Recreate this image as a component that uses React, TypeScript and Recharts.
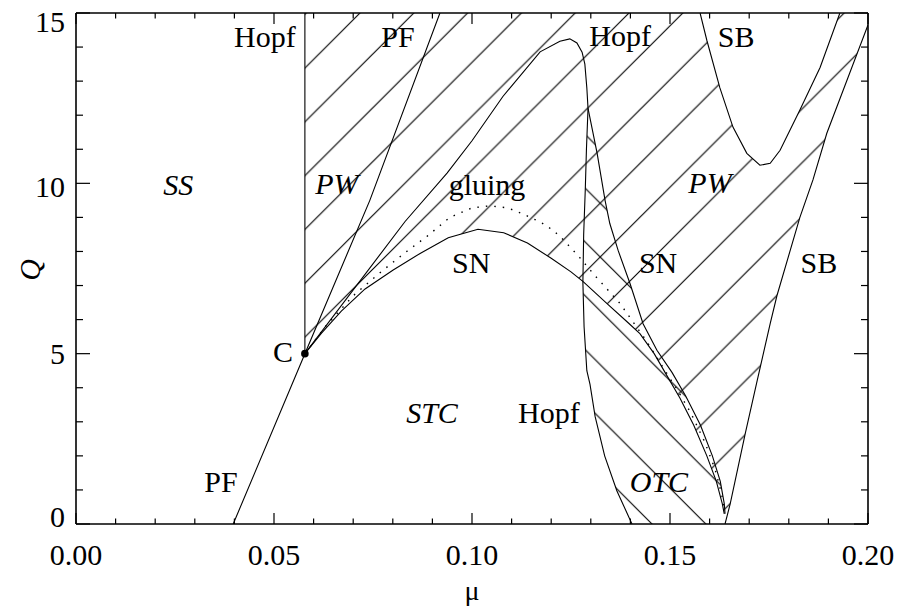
import React from "react"
import { ComposedChart, Scatter, XAxis, YAxis } from "recharts"

const FONT = '"Liberation Serif", "Times New Roman", serif'
const PLOT = { left: 76, top: 13, right: 868, bottom: 524 }

type Pt = [number, number]

// ticks
const xTicks = [0, 0.01, 0.02, 0.03, 0.04, 0.05, 0.06, 0.07, 0.08, 0.09, 0.1, 0.11, 0.12, 0.13, 0.14, 0.15, 0.16, 0.17, 0.18, 0.19, 0.2]
const xMajor = [0, 0.05, 0.1, 0.15, 0.2]
const xLabels = ["0.00", "0.05", "0.10", "0.15", "0.20"]
const yTicks = [0, 1, 2, 3, 4, 5, 6, 7, 8, 9, 10, 11, 12, 13, 14, 15]
const yMajor = [0, 5, 10, 15]
const yLabels = ["0", "5", "10", "15"]

// bifurcation curves, [mu, Q]
const pfCurve: Pt[] = [[0.0397, 0], [0.0578, 5], [0.0742, 9.5], [0.0919, 15]]
const hopfLeft: Pt[] = [[0.0578, 5], [0.0578, 15]]
const hopfRise: Pt[] = [
  [0.0578, 5], [0.0831, 8.88], [0.0937, 10.3], [0.1, 11.25], [0.1078, 12.55], [0.1172, 13.86],
  [0.1222, 14.17], [0.1247, 14.24], [0.1265, 14.12], [0.1278, 13.85], [0.1285, 13.5], [0.129, 12.8],
  [0.1293, 12.2],
]
const hopfDrop: Pt[] = [
  [0.1293, 12.2], [0.1289, 11.0], [0.1286, 9.8], [0.1282, 8.5], [0.128, 7.1], [0.1283, 5.8], [0.129, 4.5],
  [0.1298, 4.1], [0.1311, 3.15], [0.1335, 2.0], [0.1366, 0.97], [0.1404, 0],
]
const snArch: Pt[] = [
  [0.0578, 5], [0.062, 5.6], [0.067, 6.25], [0.073, 6.9], [0.08, 7.45], [0.087, 7.95], [0.094, 8.4],
  [0.1015, 8.65], [0.108, 8.55], [0.114, 8.25], [0.12, 7.8], [0.125, 7.4], [0.128, 7.12], [0.1341, 6.47],
  [0.1395, 5.9], [0.1424, 5.59], [0.146, 5.0], [0.149, 4.4], [0.1525, 3.7], [0.156, 2.9], [0.1593, 2.0],
  [0.1617, 1.25], [0.1632, 0.6], [0.1637, 0.3],
]
const snRight: Pt[] = [
  [0.1293, 12.2], [0.1316, 10.88], [0.1336, 9.5], [0.1348, 8.82], [0.1369, 8.03], [0.1399, 7.06],
  [0.1432, 5.88], [0.1467, 5.1], [0.1505, 4.45], [0.154, 3.75], [0.1577, 2.9], [0.1607, 2.0],
  [0.1627, 1.25], [0.1637, 0.6], [0.1639, 0.3],
]
const gluing: Pt[] = [
  [0.0578, 5], [0.063, 5.8], [0.07, 6.7], [0.077, 7.4], [0.0835, 8.0], [0.0887, 8.45], [0.0944, 9.0],
  [0.1, 9.28], [0.1045, 9.34], [0.109, 9.28], [0.1129, 9.1], [0.1175, 8.85], [0.1205, 8.62], [0.123, 8.35],
  [0.127, 7.85], [0.1306, 7.35], [0.1374, 6.47], [0.1442, 5.35], [0.1482, 4.6], [0.1518, 3.95],
  [0.1553, 3.25], [0.1588, 2.4], [0.1614, 1.6], [0.163, 0.9], [0.1638, 0.4],
]
const sbLoop: Pt[] = [
  [0.1576, 15], [0.1593, 14.2], [0.1626, 12.8], [0.1659, 11.65], [0.1694, 10.88], [0.1727, 10.53],
  [0.1753, 10.59], [0.1778, 10.97], [0.1828, 12.15], [0.1879, 13.4], [0.1929, 15],
]
const sbRight: Pt[] = [
  [0.1639, 0], [0.1652, 0.59], [0.169, 2.65], [0.172, 4.2], [0.1753, 5.88], [0.177, 6.7], [0.1828, 9.0],
  [0.1861, 10.1], [0.1896, 11.47], [0.2, 14.65],
]
const cuspC: Pt[] = [[0.0578, 5]]

// region labels: [mu, Q, text, italic]
const regionLabels: [number, number, string, boolean][] = [
  [0.0477, 14.0, "Hopf", false],
  [0.0813, 14.0, "PF", false],
  [0.1374, 14.03, "Hopf", false],
  [0.1667, 14.0, "SB", false],
  [0.0258, 9.66, "SS", true],
  [0.0659, 9.69, "PW", true],
  [0.1038, 9.66, "gluing", false],
  [0.1601, 9.72, "PW", true],
  [0.0998, 7.37, "SN", false],
  [0.147, 7.37, "SN", false],
  [0.1876, 7.37, "SB", false],
  [0.0523, 4.75, "C", false],
  [0.0899, 2.96, "STC", true],
  [0.1194, 2.96, "Hopf", false],
  [0.0366, 0.94, "PF", false],
  [0.1472, 0.94, "OTC", true],
]

const toPts = (arr: Pt[]) => arr.map(([x, y]) => ({ x, y }))

// hatched regions built from the curves
const pwRegion: Pt[] = [
  ...hopfLeft,
  ...sbLoop,
  [0.2, 15],
  ...[...sbRight].reverse(),
  ...[...snArch].reverse(),
]
const otcRegion: Pt[] = [...hopfDrop, [0.1639, 0], ...[...snRight].reverse()]

const isMajor = (v: number, majors: number[]) => majors.some((m) => Math.abs(m - v) < 1e-9)

const BottomTick = ({ x, payload }: any) => {
  const v = payload.value
  const major = isMajor(v, xMajor)
  const idx = xMajor.findIndex((m) => Math.abs(m - v) < 1e-9)
  return (
    <g>
      <line x1={x} x2={x} y1={PLOT.bottom} y2={PLOT.bottom - (major ? 11 : 5.5)} stroke="#000" strokeWidth={1.2} />
      {major && (
        <text x={x} y={565} textAnchor="middle" fontFamily={FONT} fontSize={30} fill="#000">
          {xLabels[idx]}
        </text>
      )}
    </g>
  )
}

const TopTick = ({ x, payload }: any) => {
  const major = isMajor(payload.value, xMajor)
  return <line x1={x} x2={x} y1={PLOT.top} y2={PLOT.top + (major ? 11 : 5.5)} stroke="#000" strokeWidth={1.2} />
}

const yLabelShift: Record<string, number> = { "0": 3, "5": 10, "10": 14, "15": 19 }

const LeftTick = ({ y, payload }: any) => {
  const v = payload.value
  const major = isMajor(v, yMajor)
  const idx = yMajor.findIndex((m) => Math.abs(m - v) < 1e-9)
  return (
    <g>
      <line x1={PLOT.left} x2={PLOT.left + (major ? 14 : 7)} y1={y} y2={y} stroke="#000" strokeWidth={1.2} />
      {major && (
        <text x={65} y={y + yLabelShift[yLabels[idx]]} textAnchor="end" fontFamily={FONT} fontSize={30} fill="#000">
          {yLabels[idx]}
        </text>
      )}
    </g>
  )
}

const RightTick = ({ y, payload }: any) => {
  const major = isMajor(payload.value, yMajor)
  return <line x1={PLOT.right} x2={PLOT.right - (major ? 14 : 7)} y1={y} y2={y} stroke="#000" strokeWidth={1.2} />
}

const noShape = () => <g />

const LabelShape = (p: any) => (
  <text
    x={p.cx}
    y={p.cy}
    textAnchor="middle"
    fontFamily={FONT}
    fontSize={30}
    fontStyle={p.payload.italic ? "italic" : "normal"}
    fill="#000"
  >
    {p.payload.text}
  </text>
)

const xTitle = () => (
  <text x={472} y={600} textAnchor="middle" fontFamily={FONT} fontSize={28} fill="#000">
    μ
  </text>
)
const yTitle = () => (
  <text transform="translate(40,270) rotate(-90)" textAnchor="middle" fontFamily={FONT} fontSize={30} fontStyle="italic" fill="#000">
    Q
  </text>
)

const solid = { stroke: "#000", strokeWidth: 1.1, fill: "none" }
const frame = { stroke: "#000", strokeWidth: 1.6 }

export default function App() {
  const labelData = regionLabels.map(([x, y, text, italic]) => ({ x, y, text, italic }))
  return (
    <div style={{ position: "absolute", left: 0, top: 0, background: "#fff" }}>
      <ComposedChart width={898} height={606} margin={{ top: 12, right: 29, bottom: 81, left: 75 }}>
        <defs>
          <pattern id="hatchUp" patternUnits="userSpaceOnUse" x={-3.6} y={0} width={53.8} height={53.8}>
            <path d="M0,53.8 L53.8,0 M-1,1 L1,-1 M52.8,54.8 L54.8,52.8" stroke="#000" strokeWidth={1.15} />
          </pattern>
          <pattern id="hatchDown" patternUnits="userSpaceOnUse" x={20.4} y={0} width={53.8} height={53.8}>
            <path d="M0,0 L53.8,53.8 M-1,52.8 L1,54.8 M52.8,-1 L54.8,1" stroke="#000" strokeWidth={1.15} />
          </pattern>
        </defs>
        <XAxis
          dataKey="x"
          type="number"
          domain={[0, 0.2]}
          ticks={xTicks}
          interval={0}
          height={1}
          allowDataOverflow
          axisLine={frame}
          tickLine={false}
          tick={<BottomTick />}
          label={{ content: xTitle }}
        />
        <XAxis
          xAxisId="top"
          orientation="top"
          dataKey="x"
          type="number"
          domain={[0, 0.2]}
          ticks={xTicks}
          interval={0}
          height={1}
          allowDataOverflow
          axisLine={frame}
          tickLine={false}
          tick={<TopTick />}
        />
        <YAxis
          dataKey="y"
          type="number"
          domain={[0, 15]}
          ticks={yTicks}
          interval={0}
          width={1}
          allowDataOverflow
          axisLine={frame}
          tickLine={false}
          tick={<LeftTick />}
          label={{ content: yTitle }}
        />
        <YAxis
          yAxisId="right"
          orientation="right"
          dataKey="y"
          type="number"
          domain={[0, 15]}
          ticks={yTicks}
          interval={0}
          width={1}
          allowDataOverflow
          axisLine={frame}
          tickLine={false}
          tick={<RightTick />}
        />

        <Scatter data={toPts(pwRegion)} shape={noShape} line={{ fill: "url(#hatchUp)", stroke: "none" }} isAnimationActive={false} />
        <Scatter data={toPts(otcRegion)} shape={noShape} line={{ fill: "url(#hatchDown)", stroke: "none" }} isAnimationActive={false} />

        <Scatter data={toPts(pfCurve)} shape={noShape} line={solid} isAnimationActive={false} />
        <Scatter data={toPts(hopfLeft)} shape={noShape} line={solid} isAnimationActive={false} />
        <Scatter data={toPts([...hopfRise, ...hopfDrop])} shape={noShape} line={solid} isAnimationActive={false} />
        <Scatter data={toPts(snArch)} shape={noShape} line={solid} isAnimationActive={false} />
        <Scatter data={toPts(snRight)} shape={noShape} line={solid} isAnimationActive={false} />
        <Scatter
          data={toPts(gluing)}
          shape={noShape}
          line={{ stroke: "#000", strokeWidth: 1.4, strokeDasharray: "1.5 7", fill: "none" }}
          isAnimationActive={false}
        />
        <Scatter data={toPts(sbLoop)} shape={noShape} line={solid} isAnimationActive={false} />
        <Scatter data={toPts(sbRight)} shape={noShape} line={solid} isAnimationActive={false} />

        <Scatter data={toPts(cuspC)} shape={(p: any) => <circle cx={p.cx} cy={p.cy} r={3.8} fill="#000" />} isAnimationActive={false} />
        <Scatter data={labelData} shape={LabelShape} isAnimationActive={false} />
      </ComposedChart>
    </div>
  )
}
